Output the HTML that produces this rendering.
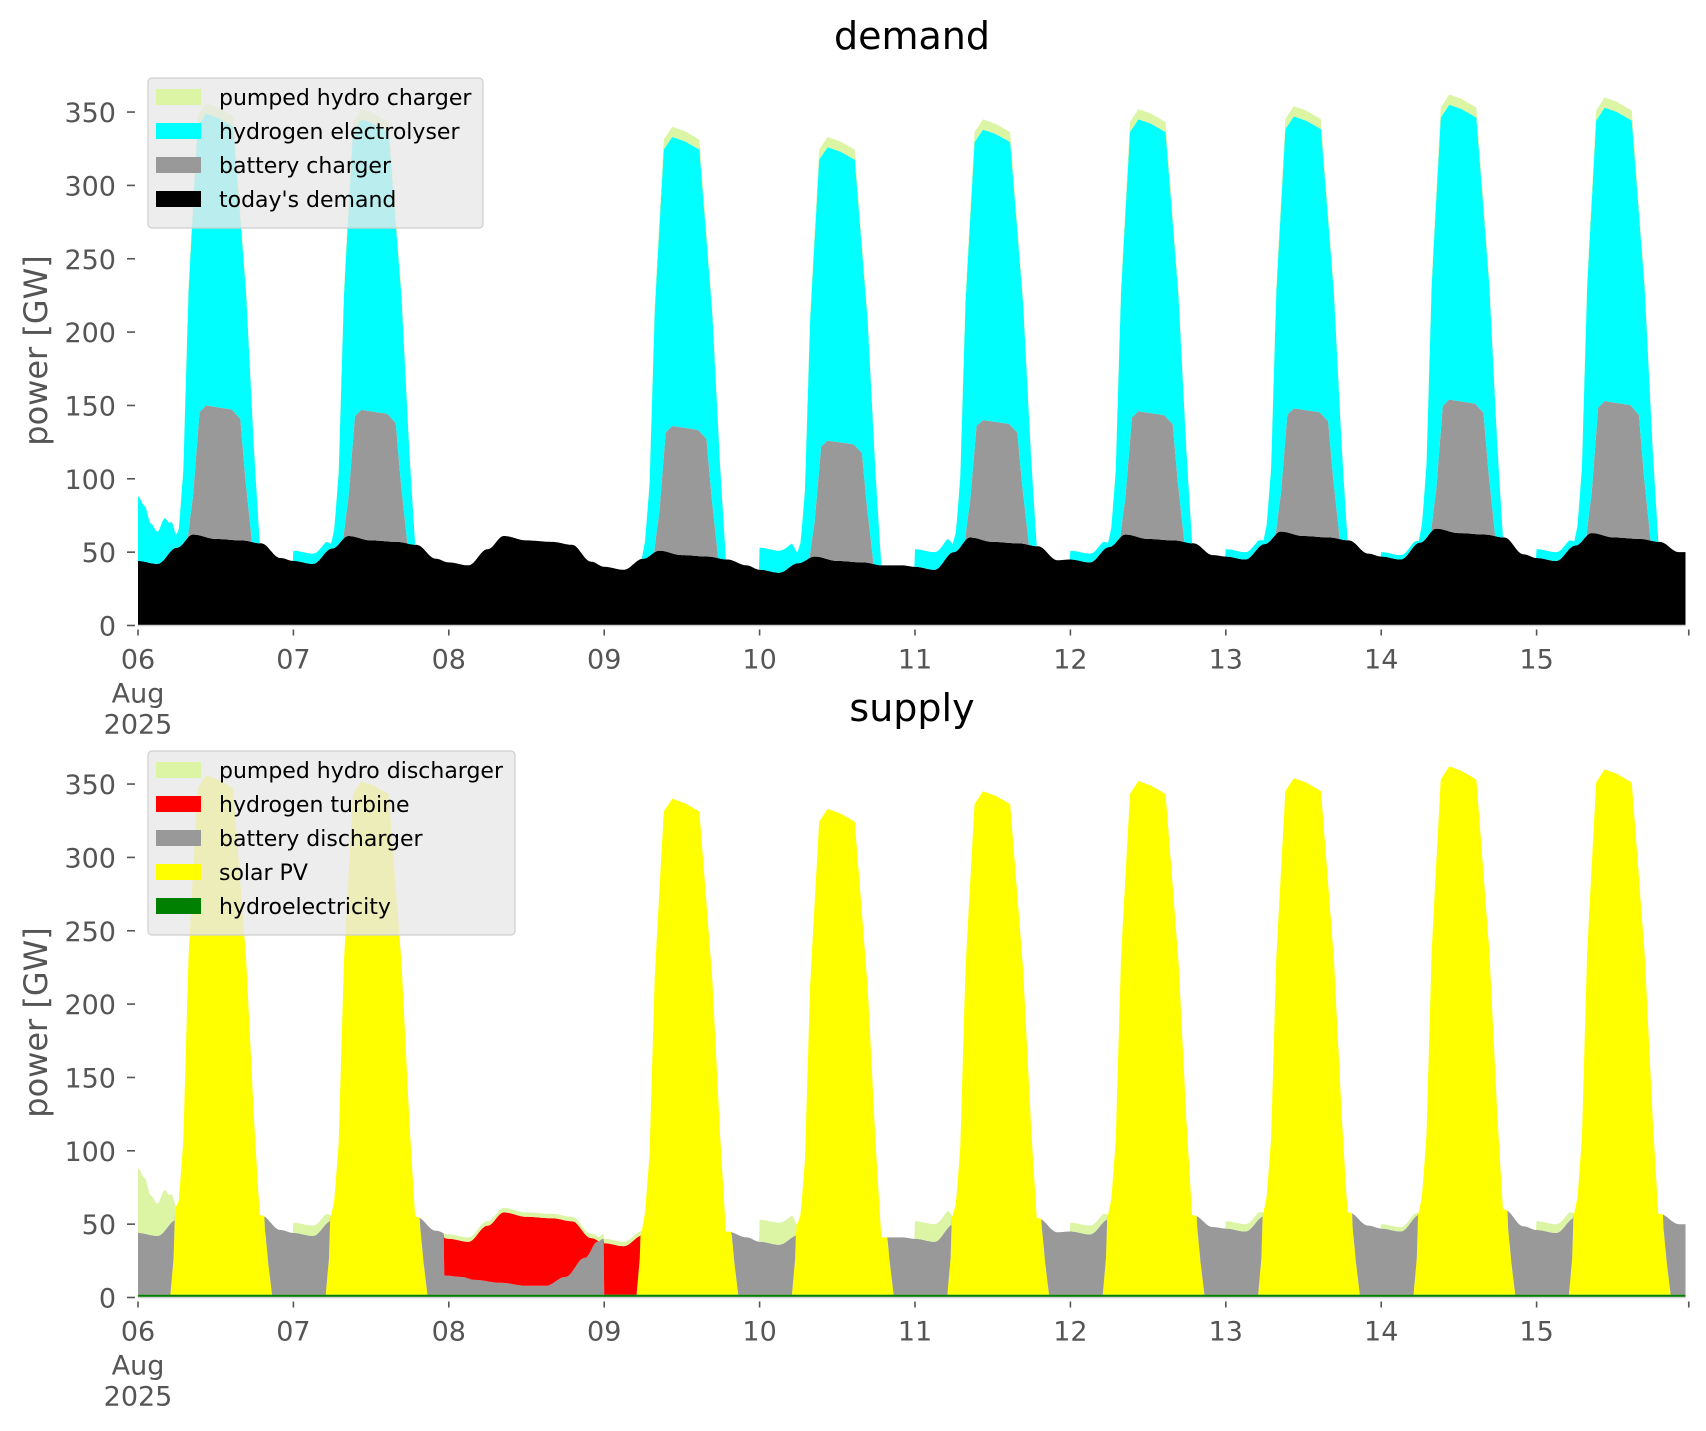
<!DOCTYPE html>
<html><head><meta charset="utf-8">
<style>
html,body{margin:0;padding:0;background:#fff;}
svg{display:block;font-family:"DejaVu Sans","Liberation Sans",sans-serif;}
</style></head>
<body>
<svg id="s" width="1706" height="1431" viewBox="0 0 1706 1431" xmlns="http://www.w3.org/2000/svg">
<g id="plots"></g>
<g id="axes"></g>
</svg>
<script>
const NS="http://www.w3.org/2000/svg";
const X0=138, DW=155.4;
const X=t=>X0+t*DW/24;
const K=1.467;
function interp(pts,x,smooth){
  if(x<=pts[0][0])return pts[0][1];
  for(let i=1;i<pts.length;i++){
    if(x<=pts[i][0]){const a=pts[i-1],b=pts[i];let u=(x-a[0])/(b[0]-a[0]);if(smooth)u=(1-Math.cos(Math.PI*u))/2;return a[1]+(b[1]-a[1])*u;}
  }
  return pts[pts.length-1][1];
}
const NP=[[44,62],[44,61],[43,61],[40,51],[38,47],[40,60],[45,62],[47,64],[47,66],[46,63]];
let basePts=[];
for(let d=0;d<10;d++){
  const [n,p]=NP[d];const o=24*d;
  const n2=d<9?NP[d+1][0]:50;
  basePts.push([o,n],[o+3,n-2],[o+6,(n+p)/2],[o+8.5,p],[o+12,p-3],[o+16,p-4],[o+19,p-6],[o+22,(n2+n)/2+2]);
}
basePts.push([239.5,50]);
const P=[356,352,0,340,333,345,352,354,362,360];
const BP=[150,147,0,136,126,140,146,148,154,153];
const F=[[0,0],[5.8,0],[6.3,0.04],[7,0.17],[7.8,0.58],[9.2,0.97],[10.5,1],[12.4,0.99],[14.7,0.97],[16.7,0.58],[17.9,0.22],[18.8,0],[24,0]];
const G=[[0,0],[7.7,0],[8.5,0.3],[9.5,0.95],[10.5,1],[14.5,0.97],[15.8,0.9],[16.6,0.45],[17.6,0],[24,0]];
const RAMP=[[0,0],[5,0],[5.5,25],[6.3,150],[7.3,400],[18.3,400],[19,120],[19.6,45],[20.1,22],[20.7,0],[24,0]];
const E=[0,7,0,0,15,12,6,5,3,6];
const E0=[[0,44],[1,38],[2,27],[3,22],[4,28],[5,20],[6.5,0]];
const GRED=[[47.3,13],[50,12],[52,10],[56,8],[60,6],[63,6],[66,12],[69,25],[71,36],[71.8,38]];
function comp(t){
  const d=Math.min(9,Math.floor(t/24)), h=t-24*d;
  const base=interp(basePts,t,true);
  let f=0,g=0;
  if(P[d]>0){f=interp(F,h);g=interp(G,h);}
  const peak=P[d]>0?(P[d]-base)*f:0;
  const btop=P[d]>0?base+(BP[d]-base)*g:base;
  let ex=0;
  if(d==0) ex=interp(E0,h,true);
  else if(h<=6.5) ex=E[d]*(h<=5?1:(6.5-h)/1.5);
  const T=base+peak+ex;
  const pc=7*f;
  const hy=2;
  let sol=P[d]>0?Math.min(T-hy,interp(RAMP,h)):0;
  let pd=ex>0?Math.min(ex,T-hy-sol):0;
  let grey=0,red=0;
  if(t>=47.3 && t<78){
    pd=Math.min(3,T-hy-sol);
    grey=t<72?interp(GRED,t,true):0;
    red=Math.max(0,T-hy-sol-grey-pd);
  } else {
    grey=Math.max(0,T-hy-sol-pd);
  }
  return {base,btop:Math.max(base,btop),etop:T-pc,T,hy,sol,grey,red,pd};
}
const ts=[];for(let t=0;t<=239.001;t+=0.1)ts.push(+t.toFixed(2));
const data=ts.map(comp);
function area(lo,hi,Y0,color){
  let s="M";
  ts.forEach((t,i)=>{s+=X(t).toFixed(1)+","+(Y0-hi(data[i])*K).toFixed(1)+" ";});
  for(let i=ts.length-1;i>=0;i--){s+=X(ts[i]).toFixed(1)+","+(Y0-lo(data[i])*K).toFixed(1)+" ";}
  s+="Z";
  const p=document.createElementNS(NS,"path");p.setAttribute("d",s);p.setAttribute("fill",color);
  document.getElementById("plots").appendChild(p);
}
const Y1=625.5, Y2=1297.5;
area(d=>0,d=>d.base,Y1,"#000");
area(d=>d.base,d=>d.btop,Y1,"#999999");
area(d=>d.btop,d=>d.etop,Y1,"#00ffff");
area(d=>d.etop,d=>d.T,Y1,"#dbf5a5");
area(d=>0,d=>d.hy,Y2,"#008000");
area(d=>d.hy,d=>d.hy+d.sol,Y2,"#ffff00");
area(d=>d.hy+d.sol,d=>d.hy+d.sol+d.grey,Y2,"#999999");
area(d=>d.hy+d.sol+d.grey,d=>d.hy+d.sol+d.grey+d.red,Y2,"#ff0000");
area(d=>d.hy+d.sol+d.grey+d.red,d=>d.hy+d.sol+d.grey+d.red+d.pd,Y2,"#dbf5a5");

let ax="";
function txt(x,y,s,o){return `<text x="${x}" y="${y}" ${o||""}>${s}</text>`;}
[[Y1,"demand",49],[Y2,"supply",721]].forEach(([Y0,title,ty],k)=>{
  ax+=`<line x1="${X0}" y1="${Y0}" x2="${X(239)}" y2="${Y0}" stroke="#d0d0d0" stroke-width="1.5"/>`;
  ax+=txt(912,ty,title,'font-size="38" text-anchor="middle" fill="#000"');
  for(let v=0;v<=350;v+=50){
    const y=Y0-v*K;
    ax+=`<line x1="127" y1="${y}" x2="135" y2="${y}" stroke="#555" stroke-width="1.6"/>`;
    ax+=txt(116,y+10,v,'font-size="27" text-anchor="end" fill="#555"');
  }
  const labs=["06","07","08","09","10","11","12","13","14","15"];
  for(let d=0;d<=10;d++){
    const x=X(d*24>239?239.5:d*24);
    ax+=`<line x1="${x}" y1="${Y0+4}" x2="${x}" y2="${Y0+10}" stroke="#555" stroke-width="1.6"/>`;
    if(d<10) ax+=txt(x,Y0+43,labs[d],'font-size="27" text-anchor="middle" fill="#555"');
  }
  ax+=txt(X0,Y0+77,"Aug",'font-size="27" text-anchor="middle" fill="#555"');
  ax+=txt(X0,Y0+108,"2025",'font-size="27" text-anchor="middle" fill="#555"');
  const cy=Y0-275;
  ax+=`<text transform="translate(47,${cy}) rotate(-90)" font-size="32" text-anchor="middle" fill="#555">power [GW]</text>`;
});
function legend(x,y,w,items){
  const h=14+items.length*34;
  let s=`<rect x="${x}" y="${y}" width="${w}" height="${h}" rx="4" fill="rgba(232,232,232,0.8)" stroke="#cfcfcf" stroke-width="1.2"/>`;
  items.forEach(([c,l],i)=>{
    const cy=y+19+i*34;
    s+=`<rect x="156" y="${cy-8}" width="45" height="16" fill="${c}"/>`;
    s+=txt(219,cy+8,l,'font-size="22" fill="#000"');
  });
  return s;
}
ax+=legend(148,78,335,[["#dbf5a5","pumped hydro charger"],["#00ffff","hydrogen electrolyser"],["#999999","battery charger"],["#000","today's demand"]]);
ax+=legend(148,751,367,[["#dbf5a5","pumped hydro discharger"],["#ff0000","hydrogen turbine"],["#999999","battery discharger"],["#ffff00","solar PV"],["#008000","hydroelectricity"]]);
document.getElementById("axes").innerHTML=ax;
</script>
</body></html>
